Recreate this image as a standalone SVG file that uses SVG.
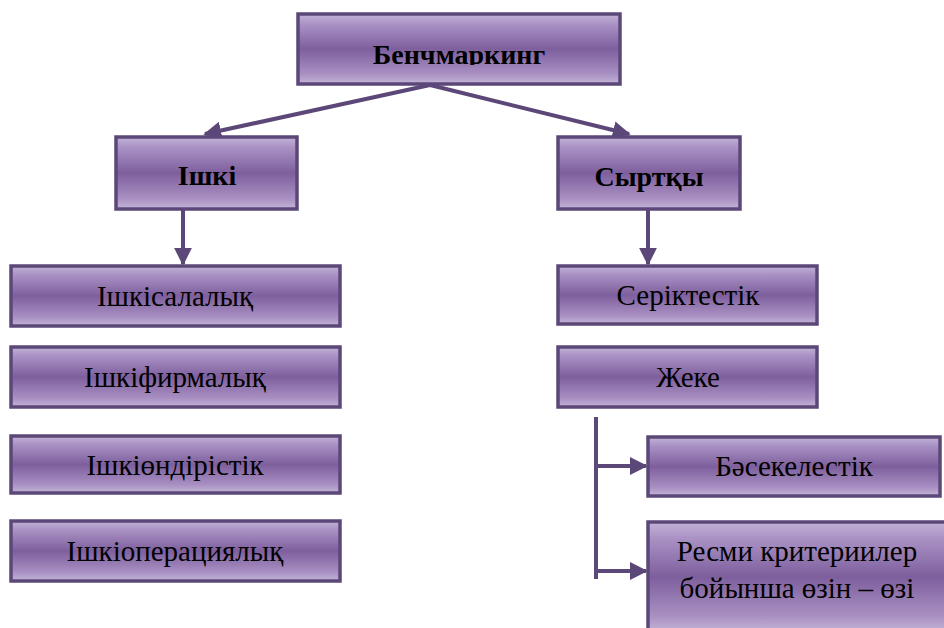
<svg xmlns="http://www.w3.org/2000/svg" width="944" height="628" viewBox="0 0 944 628">
<defs>
<linearGradient id="g" x1="0" y1="0" x2="0" y2="1">
<stop offset="0" stop-color="#c2b3d6"/>
<stop offset="0.15" stop-color="#a991c4"/>
<stop offset="0.5" stop-color="#7e5f9d"/>
<stop offset="0.85" stop-color="#a88fc2"/>
<stop offset="1" stop-color="#c4b5d8"/>
</linearGradient>
<marker id="ah" viewBox="0 0 10 10" refX="9" refY="5" markerWidth="4.5" markerHeight="4.5" orient="auto" markerUnits="strokeWidth">
<path d="M0,0 L10,5 L0,10 z" fill="#5b4878"/>
</marker>
<clipPath id="c1"><rect x="297" y="13" width="324" height="52"/></clipPath>
</defs>
<style>
.box{fill:url(#g);stroke:#5b4878;stroke-width:3.5}
.h{font-family:"Liberation Serif","Times New Roman",serif;font-weight:bold;font-size:28px;fill:#000;text-anchor:middle}
.t{font-family:"Liberation Serif","Times New Roman",serif;font-size:29px;fill:#000;text-anchor:middle}
.c{stroke:#5b4878;stroke-width:4;fill:none}
</style>
<rect width="944" height="628" fill="#fff"/>
<g id="connectors">
<line class="c" x1="430" y1="85" x2="205" y2="134" marker-end="url(#ah)"/>
<line class="c" x1="430" y1="85" x2="629" y2="134" marker-end="url(#ah)"/>
<line class="c" x1="183" y1="210" x2="183" y2="264" marker-end="url(#ah)"/>
<line class="c" x1="648" y1="210" x2="648" y2="264" marker-end="url(#ah)"/>
<line class="c" x1="596" y1="417" x2="596" y2="579"/>
<line class="c" x1="596" y1="466" x2="646" y2="466" marker-end="url(#ah)"/>
<line class="c" x1="596" y1="571" x2="646" y2="571" marker-end="url(#ah)"/>
</g>
<g id="benchmarking">
<rect class="box" x="298" y="14" width="322" height="70"/>
<text class="h" x="459" y="64" clip-path="url(#c1)">Бенчмаркинг</text>
</g>
<g id="ishki">
<rect class="box" x="116" y="137" width="181" height="72"/>
<text class="h" x="207" y="185">Ішкі</text>
</g>
<g id="syrtky">
<rect class="box" x="558" y="137" width="182" height="72"/>
<text class="h" x="649" y="186">Сыртқы</text>
</g>
<g id="ishkisalalyk">
<rect class="box" x="11" y="266" width="329" height="60"/>
<text class="t" x="175" y="306">Ішкісалалық</text>
</g>
<g id="ishkifirmalyk">
<rect class="box" x="11" y="347" width="329" height="60"/>
<text class="t" x="175" y="387">Ішкіфирмалық</text>
</g>
<g id="ishkiondiristik">
<rect class="box" x="11" y="436" width="329" height="57"/>
<text class="t" x="175" y="475">Ішкіөндірістік</text>
</g>
<g id="ishkioperatsiyalyk">
<rect class="box" x="11" y="521" width="329" height="60"/>
<text class="t" x="175" y="561">Ішкіоперациялық</text>
</g>
<g id="seriktestik">
<rect class="box" x="558" y="266" width="259" height="58"/>
<text class="t" x="688" y="305">Серіктестік</text>
</g>
<g id="zheke">
<rect class="box" x="558" y="347" width="259" height="60"/>
<text class="t" x="688" y="387">Жеке</text>
</g>
<g id="basekelestik">
<rect class="box" x="648" y="437" width="292" height="59"/>
<text class="t" x="794" y="476">Бәсекелестік</text>
</g>
<g id="resmi">
<rect class="box" x="648" y="522" width="300" height="110"/>
<text class="t" x="797" y="561">Ресми критериилер</text>
<text class="t" x="797" y="598">бойынша өзін – өзі</text>
</g>
</svg>
